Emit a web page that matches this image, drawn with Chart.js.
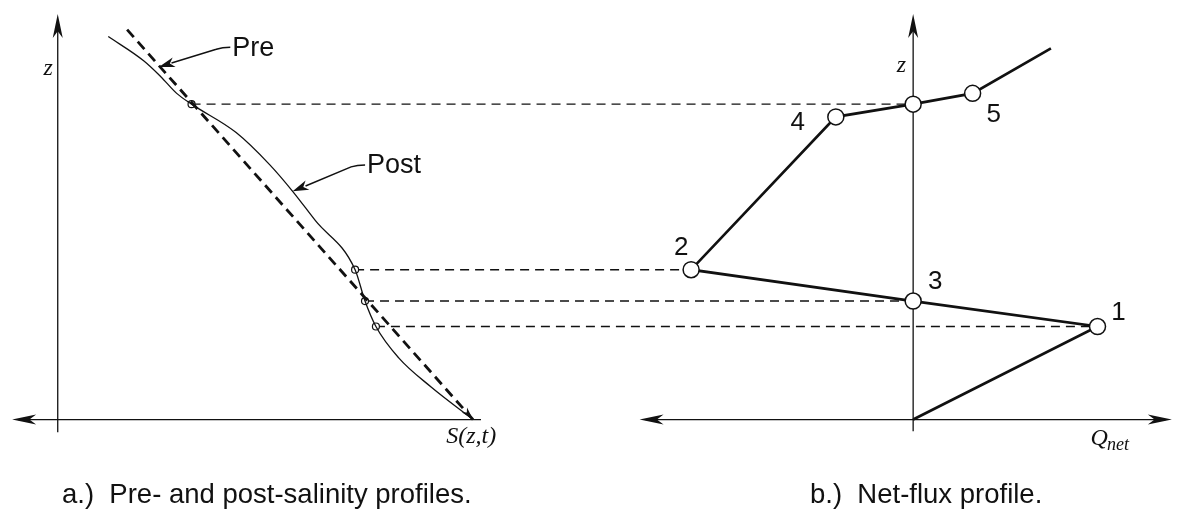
<!DOCTYPE html>
<html>
<head>
<meta charset="utf-8">
<title>Salinity and net-flux profiles</title>
<script src="https://cdn.jsdelivr.net/npm/chart.js@4.4.1/dist/chart.umd.min.js"></script>
<style>
  html, body { margin: 0; padding: 0; background: #fff; }
  .wrap { position: relative; width: 1183px; height: 510px; overflow: hidden; }
  canvas { position: absolute; left: 0; top: 0; }
  .caption {
    position: absolute; top: 478px; line-height: 30px;
    font: 27.5px "Liberation Sans", Arial, sans-serif; color: #111; white-space: pre;
  }
</style>
</head>
<body>
<div class="wrap">
  <canvas id="profiles" width="1183" height="510"></canvas>
  <div class="caption" style="left:62px">a.)  Pre- and post-salinity profiles.</div>
  <div class="caption" style="left:810px">b.)  Net-flux profile.</div>
</div>
<script>
// salinity against depth (panel a)
const preS  = [7.0, 41.9];
const preZ  = [39.8, 0];
const postS = [5.1, 8.7, 10.4, 12.0, 13.5, 18.0, 21.4, 23.7, 26.0,
               30.0, 31.0, 32.1, 34.4, 37.7, 41.9];
const postZ = [39.1, 36.6, 35.0, 33.3, 32.2, 29.3, 26.0, 23.3, 20.3,
               15.3, 12.1, 9.5, 6.3, 3.3, 0];

// sampled depths on the post profile
const levelS = [13.5, 30.0, 31.0, 32.1];
const levelZ = [32.2, 15.3, 12.1, 9.5];

// net flux against depth (panel b)
const fluxQ     = [13.9, 6.0, 0, -7.8, -22.4, 0, 18.6, 0];
const fluxZ     = [37.9, 33.3, 32.2, 30.9, 15.3, 12.1, 9.5, 0];
const fluxNames = ['', '5', '', '4', '2', '3', '1', ''];
// flux node reached by each sampled depth
const levelNode = [2, 4, 5, 6];

const pts = (xs, ys) => xs.map((x, i) => ({ x, y: ys[i] }));

const SANS  = '"Liberation Sans", Arial, sans-serif';
const SERIF = 'italic 24px "Liberation Serif", "Times New Roman", serif';

// label offsets (px) around the numbered flux nodes
const nodeLabelOffset = {
  '5': [21, 21], '4': [-38, 6], '2': [-10, -22], '3': [22, -19], '1': [21, -14]
};

function arrowHead(ctx, x0, y0, x1, y1, len, half) {
  const a = Math.atan2(y1 - y0, x1 - x0);
  ctx.save();
  ctx.translate(x1, y1);
  ctx.rotate(a);
  ctx.beginPath();
  ctx.moveTo(0, 0);
  ctx.lineTo(-len, -half);
  ctx.lineTo(-len * 0.72, 0);
  ctx.lineTo(-len, half);
  ctx.closePath();
  ctx.fill();
  ctx.restore();
}

function line(ctx, x0, y0, x1, y1) {
  ctx.beginPath();
  ctx.moveTo(x0, y0);
  ctx.lineTo(x1, y1);
  ctx.stroke();
}

const framePlugin = {
  id: 'frame',
  beforeDatasetsDraw(chart) {
    const { ctx } = chart;
    const sx = chart.scales.xS, qx = chart.scales.xQ, zy = chart.scales.y;
    ctx.save();
    ctx.strokeStyle = '#111';
    ctx.fillStyle = '#111';
    ctx.lineWidth = 1.3;

    // panel a axes
    const a0 = sx.getPixelForValue(0), zTop = zy.getPixelForValue(41.4);
    line(ctx, a0, zy.getPixelForValue(-1.3), a0, zTop + 6);
    arrowHead(ctx, a0, zTop + 30, a0, zTop, 24, 5);
    const base = zy.getPixelForValue(0);
    const sLeft = sx.getPixelForValue(-4.6);
    line(ctx, sLeft + 6, base, sx.getPixelForValue(42.7), base);
    arrowHead(ctx, sLeft + 30, base, sLeft, base, 24, 5);

    // panel b axes
    const b0 = qx.getPixelForValue(0);
    line(ctx, b0, zy.getPixelForValue(-1.2), b0, zTop + 6);
    arrowHead(ctx, b0, zTop + 30, b0, zTop, 24, 5);
    const qLeft = qx.getPixelForValue(-27.6), qRight = qx.getPixelForValue(26.1);
    line(ctx, qLeft + 6, base, qRight - 6, base);
    arrowHead(ctx, qLeft + 30, base, qLeft, base, 24, 5);
    arrowHead(ctx, qRight - 30, base, qRight, base, 24, 5);

    // dashed links from sampled depths to the flux nodes
    ctx.strokeStyle = '#111';
    ctx.lineWidth = 1.4;
    ctx.setLineDash([9, 6]);
    levelS.forEach((s, i) => {
      const y = zy.getPixelForValue(levelZ[i]);
      line(ctx, sx.getPixelForValue(s), y, qx.getPixelForValue(fluxQ[levelNode[i]]), y);
    });
    ctx.restore();
  },
  afterDatasetsDraw(chart) {
    const { ctx } = chart;
    const sx = chart.scales.xS, qx = chart.scales.xQ, zy = chart.scales.y;
    ctx.save();
    ctx.fillStyle = '#111';
    ctx.strokeStyle = '#111';

    // arrow tip at the foot of the pre profile
    const n = preS.length - 1;
    arrowHead(ctx,
      sx.getPixelForValue(preS[n - 1]), zy.getPixelForValue(preZ[n - 1]),
      sx.getPixelForValue(preS[n]), zy.getPixelForValue(preZ[n]), 13, 3.5);

    // callouts
    ctx.lineWidth = 1.5;
    const callout = (text, tipS, tipZ, tailS, tailZ) => {
      const tx = sx.getPixelForValue(tipS), ty = zy.getPixelForValue(tipZ);
      const ex = sx.getPixelForValue(tailS), ey = zy.getPixelForValue(tailZ);
      ctx.beginPath();
      ctx.moveTo(ex + 8, ey);
      ctx.quadraticCurveTo(ex, ey, ex - 6, ey + 2);
      ctx.lineTo(tx + (ex - tx) * 0.2, ty + (ey - ty) * 0.2);
      ctx.stroke();
      arrowHead(ctx, ex, ey, tx, ty, 16, 5);
      ctx.font = '27px ' + SANS;
      ctx.textAlign = 'left';
      ctx.textBaseline = 'middle';
      ctx.fillText(text, ex + 10, ey + 1);
    };
    callout('Pre', 10.2, 36.0, 16.6, 38.0);
    callout('Post', 23.7, 23.3, 30.2, 26.0);

    // axis names
    ctx.font = SERIF;
    ctx.textBaseline = 'middle';
    ctx.textAlign = 'right';
    ctx.fillText('z', sx.getPixelForValue(0) - 5, zy.getPixelForValue(35.8));
    ctx.fillText('z', qx.getPixelForValue(0) - 7, zy.getPixelForValue(36.1));
    ctx.textAlign = 'left';
    ctx.fillText('S(z,t)', sx.getPixelForValue(39.2), zy.getPixelForValue(-1.7));
    const qX = qx.getPixelForValue(17.9), qY = zy.getPixelForValue(-2.0);
    ctx.fillText('Q', qX, qY);
    const qW = ctx.measureText('Q').width;
    ctx.font = 'italic 18px "Liberation Serif", "Times New Roman", serif';
    ctx.fillText('net', qX + qW - 1, qY + 6);

    // flux node numbers
    ctx.font = '26px ' + SANS;
    ctx.textAlign = 'center';
    fluxNames.forEach((name, i) => {
      if (!name) return;
      const [dx, dy] = nodeLabelOffset[name];
      ctx.fillText(name, qx.getPixelForValue(fluxQ[i]) + dx, zy.getPixelForValue(fluxZ[i]) + dy);
    });
    ctx.restore();
  }
};

new Chart(document.getElementById('profiles'), {
  type: 'scatter',
  data: {
    datasets: [
      {
        label: 'Pre',
        xAxisID: 'xS',
        data: pts(preS, preZ),
        showLine: true,
        borderColor: '#111',
        borderWidth: 2.8,
        borderDash: [10, 6],
        pointRadius: 0
      },
      {
        label: 'Post',
        xAxisID: 'xS',
        data: pts(postS, postZ),
        showLine: true,
        borderColor: '#111',
        borderWidth: 1.3,
        cubicInterpolationMode: 'monotone',
        pointRadius: 0
      },
      {
        label: 'Sampled depths',
        xAxisID: 'xS',
        data: pts(levelS, levelZ),
        showLine: false,
        pointRadius: 3.5,
        pointBackgroundColor: '#fff',
        pointBorderColor: '#111',
        pointBorderWidth: 1.2
      },
      {
        label: 'Net flux',
        xAxisID: 'xQ',
        data: pts(fluxQ, fluxZ),
        showLine: true,
        borderColor: '#111',
        borderWidth: 2.7,
        pointRadius: ctx => (ctx.dataIndex === 0 || ctx.dataIndex === fluxQ.length - 1) ? 0 : 8,
        pointBackgroundColor: '#fff',
        pointBorderColor: '#111',
        pointBorderWidth: 1.5
      }
    ]
  },
  options: {
    responsive: false,
    animation: false,
    devicePixelRatio: 1,
    layout: { padding: 0 },
    plugins: { legend: { display: false }, tooltip: { enabled: false } },
    events: [],
    elements: { line: { borderCapStyle: 'butt' } },
    datasets: { scatter: { clip: false } },
    scales: {
      xS: { type: 'linear', display: false, min: -5.3, max: 113.0 },
      xQ: { type: 'linear', display: false, min: -91.6, max: 26.7 },
      y:  { type: 'linear', display: false, min: -8.7, max: 42.3 }
    }
  },
  plugins: [framePlugin]
});
</script>
</body>
</html>
